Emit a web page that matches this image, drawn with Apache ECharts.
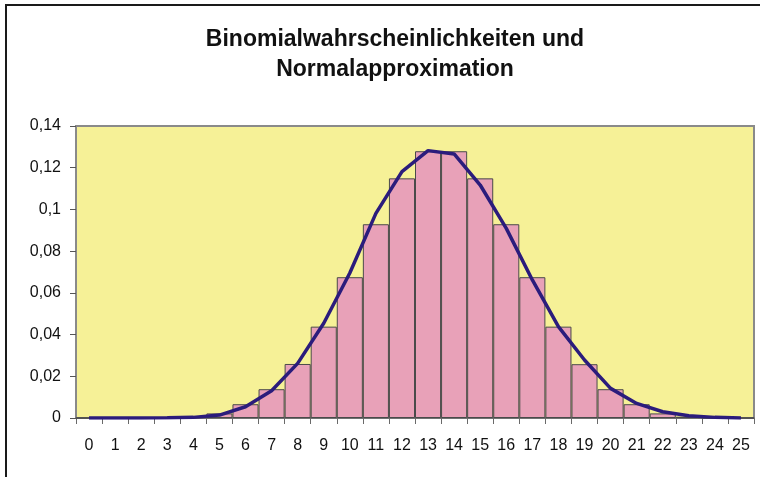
<!DOCTYPE html>
<html>
<head>
<meta charset="utf-8">
<script src="https://cdn.jsdelivr.net/npm/echarts@6/dist/echarts.min.js"></script>
<style>
  html, body { margin: 0; padding: 0; background: #fff; }
  #chart { width: 760px; height: 477px; }
</style>
</head>
<body>
<div id="chart"></div>
<script>
// Number of successes k
const categories = ['0','1','2','3','4','5','6','7','8','9','10','11','12','13','14','15','16','17','18','19','20','21','22','23','24','25'];
// Binomial probabilities P(X = k)
const binomial = [0, 0, 0, 0.0001, 0.0005, 0.0022, 0.0066, 0.0138, 0.0259, 0.0438, 0.0675, 0.0929, 0.1149,
                  0.1279, 0.1279, 0.1149, 0.0929, 0.0675, 0.0438, 0.0258, 0.0138, 0.0066, 0.0022, 0.0006, 0.0001, 0];
// Normal density evaluated at each k
const normal = [0, 0, 0, 0.0001, 0.0003, 0.0014, 0.0054, 0.0131, 0.0262, 0.0454, 0.0695, 0.0981, 0.1181,
                0.1282, 0.1266, 0.1117, 0.0909, 0.0662, 0.0438, 0.0278, 0.0142, 0.0070, 0.0030, 0.0011, 0.0003, 0];
const yTicks = { min: 0, max: 0.14, step: 0.02 };
const titleText = 'Binomialwahrscheinlichkeiten und\nNormalapproximation';

const chart = echarts.init(document.getElementById('chart'), null, { renderer: 'canvas' });
const font = '"Liberation Sans", Arial, sans-serif';

chart.setOption({
  animation: false,
  backgroundColor: '#ffffff',
  title: {
    text: titleText,
    left: 390,
    textAlign: 'center',
    top: 20,
    textStyle: { fontFamily: font, fontSize: 23, fontWeight: 'bold', color: '#111', lineHeight: 30 }
  },
  graphic: [{
    type: 'rect',
    shape: { x: 6, y: 5, width: 800, height: 520 },
    style: { fill: 'none', stroke: '#1a1a1a', lineWidth: 2 },
    silent: true
  }],
  grid: {
    left: 76, right: 6, top: 126, bottom: 59,
    show: true,
    backgroundColor: '#F6F197',
    borderColor: '#8a8a8a',
    borderWidth: 2
  },
  xAxis: {
    type: 'category',
    data: categories,
    axisLine: { lineStyle: { color: '#6a6a6a', width: 1.5 } },
    axisTick: { show: true, length: 6, lineStyle: { color: '#6a6a6a' } },
    axisLabel: { fontFamily: font, fontSize: 16, color: '#111', margin: 20, interval: 0 },
    splitLine: { show: false }
  },
  yAxis: {
    type: 'value',
    min: yTicks.min, max: yTicks.max, interval: yTicks.step,
    axisLine: { show: true, lineStyle: { color: '#8a8a8a', width: 2 } },
    axisTick: { show: true, length: 6, lineStyle: { color: '#555' } },
    axisLabel: {
      fontFamily: font, fontSize: 16, color: '#111', margin: 15,
      formatter: v => String(+v.toFixed(2)).replace('.', ',')
    },
    splitLine: { show: false }
  },
  series: [
    {
      name: 'Binomial',
      type: 'bar',
      data: binomial,
      barCategoryGap: '0%',
      itemStyle: { color: '#E8A1B8', borderColor: '#4a4a4a', borderWidth: 1 },
      z: 2
    },
    {
      name: 'Normal',
      type: 'line',
      data: normal,
      showSymbol: false,
      symbol: 'none',
      smooth: false,
      lineStyle: { color: '#2B1C7C', width: 3.5 },
      z: 3
    }
  ]
});
</script>
</body>
</html>
